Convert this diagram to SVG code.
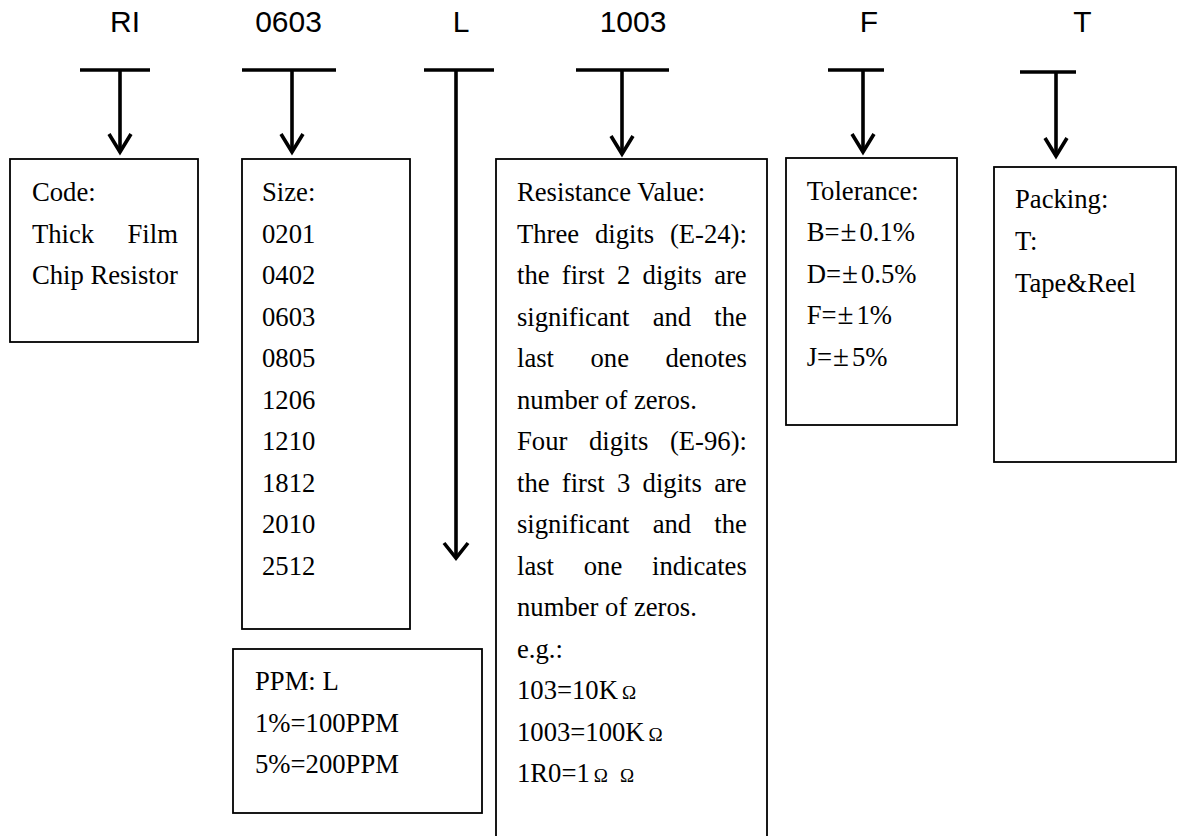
<svg xmlns="http://www.w3.org/2000/svg" width="1177" height="836" viewBox="0 0 1177 836">
<style>
.hdr{font-family:"Liberation Sans",Arial,sans-serif;font-size:30px;fill:#000;text-anchor:middle}
.t{font-family:"Liberation Serif","Times New Roman",serif;font-size:26.67px;fill:#000}
.om{font-size:19px}
.pm{font-size:29px}
.box{fill:#fff;stroke:#000;stroke-width:1.8}
.bar{stroke:#000;stroke-width:3.6;fill:none}
.head{stroke:#000;stroke-width:3.6;fill:none;stroke-linejoin:miter;stroke-linecap:butt}
</style>
<rect width="1177" height="836" fill="#fff"/>
<g id="headers">
<text class="hdr" x="125" y="32">RI</text>
<text class="hdr" x="288.5" y="32">0603</text>
<text class="hdr" x="461" y="32">L</text>
<text class="hdr" x="633" y="32">1003</text>
<text class="hdr" x="869" y="32">F</text>
<text class="hdr" x="1082.5" y="32">T</text>
</g>
<g id="connectors">
<line class="bar" x1="80" y1="70" x2="150" y2="70"/>
<line class="bar" x1="120" y1="70" x2="120" y2="151"/>
<polyline class="head" points="109,134 120,152 131,134"/>
<line class="bar" x1="242" y1="70" x2="336" y2="70"/>
<line class="bar" x1="292" y1="70" x2="292" y2="151"/>
<polyline class="head" points="281,134 292,152 303,134"/>
<line class="bar" x1="424" y1="70" x2="494" y2="70"/>
<line class="bar" x1="456" y1="70" x2="456" y2="557"/>
<polyline class="head" points="444,543 456,558 468,543"/>
<line class="bar" x1="576" y1="70" x2="669" y2="70"/>
<line class="bar" x1="622" y1="70" x2="622" y2="153"/>
<polyline class="head" points="611,136 622,154 633,136"/>
<line class="bar" x1="828" y1="70" x2="884" y2="70"/>
<line class="bar" x1="863" y1="70" x2="863" y2="151"/>
<polyline class="head" points="852,134 863,152 874,134"/>
<line class="bar" x1="1020" y1="72" x2="1076" y2="72"/>
<line class="bar" x1="1056" y1="72" x2="1056" y2="155"/>
<polyline class="head" points="1045,138 1056,156 1067,138"/>
</g>
<g id="code">
<rect class="box" x="10" y="159" width="188" height="183"/>
<text class="t" x="32" y="201">Code:</text>
<text class="t" x="32" y="242.5" word-spacing="26.7">Thick Film</text>
<text class="t" x="32" y="284">Chip Resistor</text>
</g>
<g id="size">
<rect class="box" x="242" y="159" width="168" height="470"/>
<text class="t" x="262" y="201">Size:</text>
<text class="t" x="262" y="242.5">0201</text>
<text class="t" x="262" y="284">0402</text>
<text class="t" x="262" y="325.5">0603</text>
<text class="t" x="262" y="367">0805</text>
<text class="t" x="262" y="408.5">1206</text>
<text class="t" x="262" y="450">1210</text>
<text class="t" x="262" y="491.5">1812</text>
<text class="t" x="262" y="533">2010</text>
<text class="t" x="262" y="574.5">2512</text>
</g>
<g id="ppm">
<rect class="box" x="233" y="649" width="249" height="164"/>
<text class="t" x="255" y="690">PPM: L</text>
<text class="t" x="255" y="731.5">1%=100PPM</text>
<text class="t" x="255" y="773">5%=200PPM</text>
</g>
<g id="resistance">
<rect class="box" x="496" y="159" width="271" height="700"/>
<text class="t" x="517" y="201">Resistance Value:</text>
<text class="t" x="517" y="242.5" word-spacing="9.1">Three digits (E-24):</text>
<text class="t" x="517" y="284" word-spacing="5.6">the first 2 digits are</text>
<text class="t" x="517" y="325.5" word-spacing="16.5">significant and the</text>
<text class="t" x="517" y="367" word-spacing="29.8">last one denotes</text>
<text class="t" x="517" y="408.5">number of zeros.</text>
<text class="t" x="517" y="450" word-spacing="15">Four digits (E-96):</text>
<text class="t" x="517" y="491.5" word-spacing="5.6">the first 3 digits are</text>
<text class="t" x="517" y="533" word-spacing="16.5">significant and the</text>
<text class="t" x="517" y="574.5" word-spacing="23.1">last one indicates</text>
<text class="t" x="517" y="616">number of zeros.</text>
<text class="t" x="517" y="657.5">e.g.:</text>
<text class="t" x="517" y="699">103=10K<tspan class="om" dx="4">Ω</tspan></text>
<text class="t" x="517" y="740.5">1003=100K<tspan class="om" dx="4">Ω</tspan></text>
<text class="t" x="517" y="782">1R0=1<tspan class="om" dx="4">Ω</tspan><tspan class="om" dx="12">Ω</tspan></text>
</g>
<g id="tolerance">
<rect class="box" x="786" y="158" width="171" height="267"/>
<text class="t" x="806.7" y="199.5">Tolerance:</text>
<text class="t" x="806.7" y="241">B=<tspan class="pm" dx="1">±</tspan><tspan dx="3">0.1%</tspan></text>
<text class="t" x="806.7" y="282.5">D=<tspan class="pm" dx="1">±</tspan><tspan dx="3">0.5%</tspan></text>
<text class="t" x="806.7" y="324">F=<tspan class="pm" dx="1">±</tspan><tspan dx="3">1%</tspan></text>
<text class="t" x="806.7" y="365.5">J=<tspan class="pm" dx="1">±</tspan><tspan dx="3">5%</tspan></text>
</g>
<g id="packing">
<rect class="box" x="994" y="167" width="182" height="295"/>
<text class="t" x="1015" y="208">Packing:</text>
<text class="t" x="1015" y="250">T:</text>
<text class="t" x="1015" y="291.5">Tape&amp;Reel</text>
</g>
</svg>
